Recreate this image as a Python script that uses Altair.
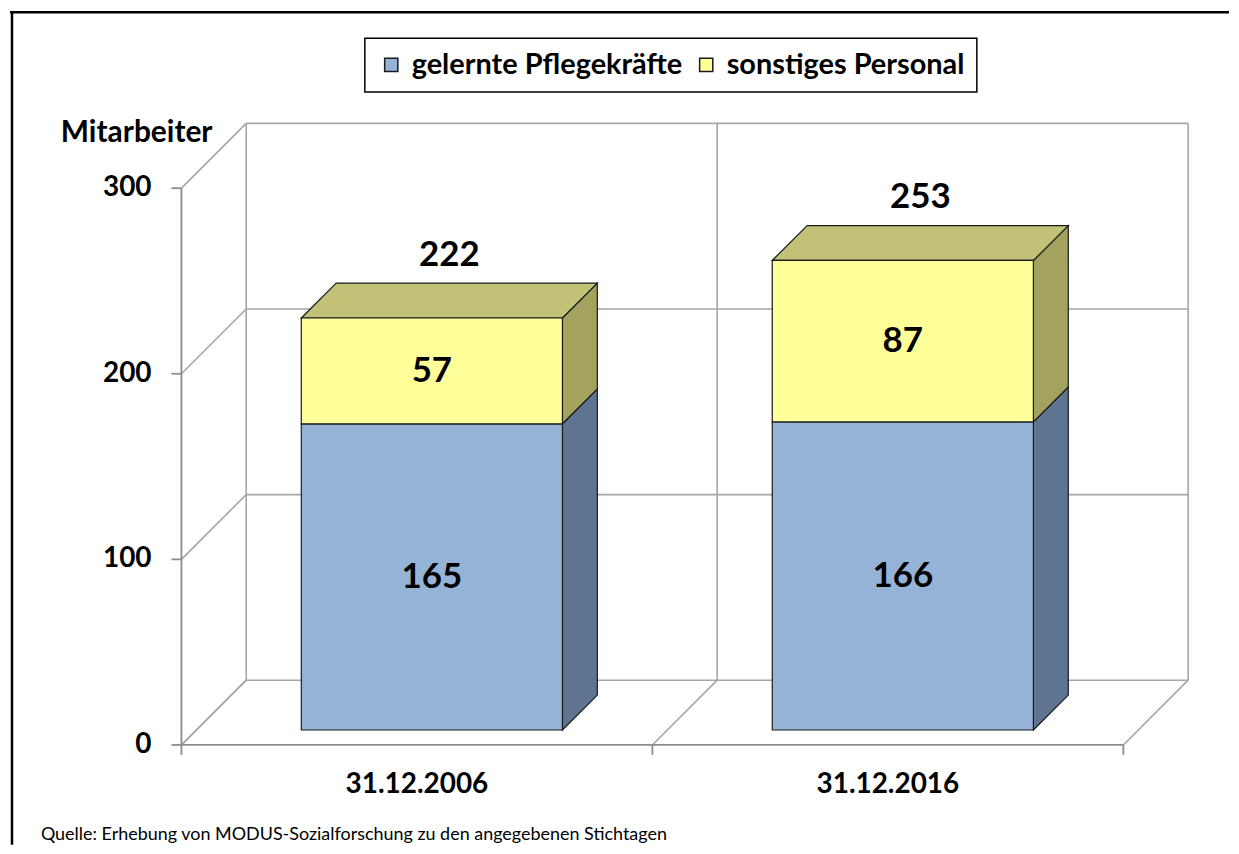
import altair as alt
import pandas as pd

# ---------------- data ----------------
categories = ["31.12.2006", "31.12.2016"]
series_names = ["gelernte Pflegekräfte", "sonstiges Personal"]
gelernte = [165, 166]
sonstiges = [57, 87]
y_ticks = [0, 100, 200, 300]
y_title = "Mitarbeiter"
source_text = "Quelle: Erhebung von MODUS-Sozialforschung zu den angegebenen Stichtagen"

front_colors = ["#95B3D7", "#FFFF99"]
side_colors = ["#5F7490", "#A3A35F"]
top_colors = ["#7A90AC", "#C1C177"]

# ---------------- layout (pixels) ----------------
W, H = 1223, 836
ORIGIN_X, ORIGIN_Y = 172, 736      # front-floor corner inside the view
CAT_PX = 472.5                     # width of one category on the front plane
VAL_PX = 1.862                     # pixels per value unit
DEPTH_PX = 65                      # depth of the 3D box
BAR_FRONT, BAR_BACK = 15, 50       # depth range occupied by bars
BAR_HALF_PX = 131
FONT = "Lato"


def ux(px):
    return px / CAT_PX


def uy(px):
    return px / VAL_PX


x_dom = [-ORIGIN_X / CAT_PX, (W - ORIGIN_X) / CAT_PX]
y_dom = [-(H - ORIGIN_Y) / VAL_PX, ORIGIN_Y / VAL_PX]
DX, DY = ux(DEPTH_PX), uy(DEPTH_PX)
f1x, f1y = ux(BAR_FRONT), uy(BAR_FRONT)
f2x, f2y = ux(BAR_BACK), uy(BAR_BACK)
hw = ux(BAR_HALF_PX)
ncat = len(categories)
ymax = max(y_ticks)

# ---------------- frame / grid lines ----------------
grid = []
for v in y_ticks:
    grid.append(dict(x=DX, y=v + DY, x2=ncat + DX, y2=v + DY))      # back wall
    grid.append(dict(x=0, y=v, x2=DX, y2=v + DY))                   # side wall
for k in range(ncat + 1):
    grid.append(dict(x=k + DX, y=DY, x2=k + DX, y2=ymax + DY))      # back wall verticals
    grid.append(dict(x=k, y=0, x2=k + DX, y2=DY))                   # floor diagonals
grid_df = pd.DataFrame(grid)

axis = [dict(x=0, y=0, x2=ncat, y2=0), dict(x=0, y=0, x2=0, y2=ymax)]
for v in y_ticks:
    axis.append(dict(x=-ux(10), y=v, x2=0, y2=v))
for k in range(ncat + 1):
    axis.append(dict(x=k, y=0, x2=k, y2=-uy(10)))
axis_df = pd.DataFrame(axis)

# ---------------- bar faces ----------------
fronts, sides, tops, seglabels, totlabels = [], [], [], [], []
for i, cat in enumerate(categories):
    c = i + 0.5
    base = 0
    vals = [gelernte[i], sonstiges[i]]
    xl, xr = c - hw, c + hw
    for j, v in enumerate(vals):
        top = base + v
        fid = f"{i}-{j}"
        fronts.append(dict(x=xl + f1x, x2=xr + f1x, y=base + f1y, y2=top + f1y,
                           series=series_names[j]))
        sides.append(dict(face=fid, x=xr + f1x, y=top + f1y, y2=base + f1y, color=side_colors[j]))
        sides.append(dict(face=fid, x=xr + f2x, y=top + f2y, y2=base + f2y, color=side_colors[j]))
        if j == len(vals) - 1:
            tops.append(dict(face=fid, y=top + f1y, x=xl + f1x, x2=xr + f1x, color=top_colors[j]))
            tops.append(dict(face=fid, y=top + f2y, x=xl + f2x, x2=xr + f2x, color=top_colors[j]))
        seglabels.append(dict(x=c + f1x, y=(base + top) / 2 + f1y, label=str(v)))
        base = top
    totlabels.append(dict(x=c + (f1x + f2x) / 2, y=base + (f1y + f2y) / 2, label=str(base)))

fronts_df = pd.DataFrame(fronts)
sides_df = pd.DataFrame(sides)
tops_df = pd.DataFrame(tops)
seg_df = pd.DataFrame(seglabels)
tot_df = pd.DataFrame(totlabels)
ytl_df = pd.DataFrame(dict(x=[-ux(30)] * len(y_ticks), y=y_ticks, label=[str(v) for v in y_ticks]))
cat_df = pd.DataFrame(dict(x=[i + 0.5 for i in range(ncat)], y=[-uy(40)] * ncat, label=categories))

xs = alt.Scale(domain=x_dom, nice=False, zero=False)
ys = alt.Scale(domain=y_dom, nice=False, zero=False)


def X(f="x"):
    return alt.X(f, type="quantitative", scale=xs, axis=None)


def Y(f="y"):
    return alt.Y(f, type="quantitative", scale=ys, axis=None)


# outer frame: only top and left edges, as in the original
frame_df = pd.DataFrame(dict(edge=["top", "left"]))
frame_top = alt.Chart(frame_df.iloc[[0]]).mark_rule(color="black", strokeWidth=2.5).encode(
    x=alt.value(0), x2=alt.value(W), y=alt.value(1))
frame_left = alt.Chart(frame_df.iloc[[1]]).mark_rule(color="black", strokeWidth=2.5).encode(
    x=alt.value(2), y=alt.value(0), y2=alt.value(H))

grid_layer = alt.Chart(grid_df).mark_rule(color="#A6A6A6", strokeWidth=1.6).encode(
    x=X(), y=Y(), x2="x2", y2="y2")
axis_layer = alt.Chart(axis_df).mark_rule(color="#8C8C8C", strokeWidth=1.8).encode(
    x=X(), y=Y(), x2="x2", y2="y2")

side_layer = alt.Chart(sides_df).mark_area(orient="vertical", stroke="#1a1a1a", strokeWidth=1.2,
                                           opacity=1).encode(
    x=X(), y=Y(), y2="y2", detail="face:N", fill=alt.Fill("color:N", scale=None))
top_layer = alt.Chart(tops_df).mark_area(orient="horizontal", stroke="#1a1a1a", strokeWidth=1.2,
                                         opacity=1).encode(
    y=Y(), x=X(), x2="x2", detail="face:N", fill=alt.Fill("color:N", scale=None))
front_layer = alt.Chart(fronts_df).mark_rect(stroke="#1a1a1a", strokeWidth=1.2, opacity=1).encode(
    x=X(), x2="x2", y=Y(), y2="y2",
    fill=alt.Fill("series:N",
                  scale=alt.Scale(domain=series_names, range=front_colors),
                  legend=alt.Legend(title=None, orient="none", legendX=356, legendY=27,
                                    direction="horizontal", padding=12, columnPadding=9,
                                    symbolType="square", symbolSize=175,
                                    symbolStrokeColor="#333333", symbolStrokeWidth=1.5,
                                    labelFont=FONT, labelFontSize=29, labelFontWeight="bold",
                                    labelColor="black", labelOffset=6, labelLimit=500,
                                    strokeColor="black")))

seg_text = alt.Chart(seg_df).mark_text(font=FONT, fontSize=35, fontWeight="bold", color="black",
                                       baseline="middle").encode(x=X(), y=Y(), text="label:N")
tot_text = alt.Chart(tot_df).mark_text(font=FONT, fontSize=35, fontWeight="bold", color="black",
                                       baseline="middle", dy=-46).encode(x=X(), y=Y(), text="label:N")
ytl_text = alt.Chart(ytl_df).mark_text(font=FONT, fontSize=28, fontWeight="bold", color="black",
                                       baseline="middle", align="right").encode(
    x=X(), y=Y(), text="label:N")
cat_text = alt.Chart(cat_df).mark_text(font=FONT, fontSize=28, fontWeight="bold", color="black",
                                       baseline="middle").encode(x=X(), y=Y(), text="label:N")
title_text = alt.Chart(pd.DataFrame(dict(label=[y_title]))).mark_text(
    font=FONT, fontSize=30, fontWeight="bold", color="black", align="left", baseline="middle"
).encode(x=alt.value(51), y=alt.value(122), text="label:N")
source = alt.Chart(pd.DataFrame(dict(label=[source_text]))).mark_text(
    font=FONT, fontSize=18, color="black", align="left", baseline="middle"
).encode(x=alt.value(31), y=alt.value(826), text="label:N")

chart = alt.layer(
    frame_top, frame_left, grid_layer, axis_layer, side_layer, top_layer, front_layer,
    seg_text, tot_text, ytl_text, cat_text, title_text, source
).properties(
    width=W, height=H, padding=0
).configure_view(
    stroke=None
).configure_legend(
    strokeWidth=1.5
)

chart.save("out.html", embed_options={"renderer": "svg", "actions": False})
